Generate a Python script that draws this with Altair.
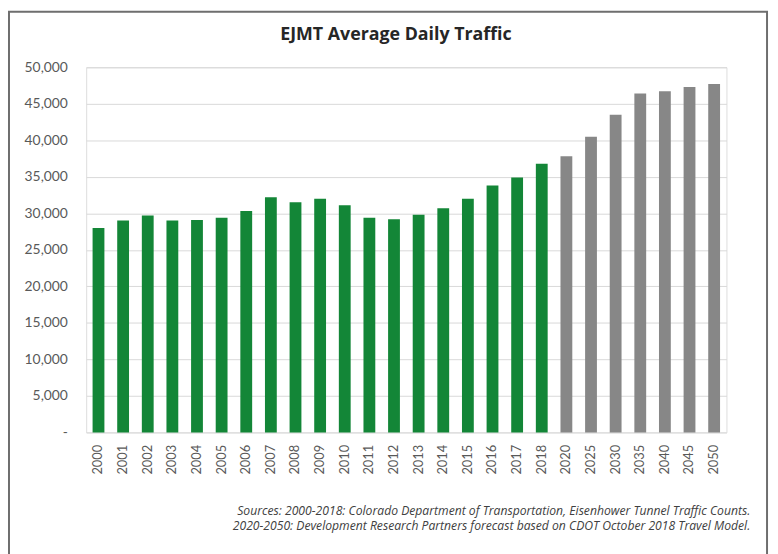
import altair as alt
import pandas as pd

years = ["2000", "2001", "2002", "2003", "2004", "2005", "2006", "2007", "2008", "2009",
         "2010", "2011", "2012", "2013", "2014", "2015", "2016", "2017", "2018",
         "2020", "2025", "2030", "2035", "2040", "2045", "2050"]
traffic = [28000, 29000, 29700, 29000, 29100, 29400, 30300, 32200, 31500, 32000,
           31100, 29400, 29200, 29800, 30700, 32000, 33800, 34900, 36800,
           37800, 40500, 43500, 46400, 46700, 47300, 47700]
period = ["Actual"] * 19 + ["Forecast"] * 7

title_text = "EJMT Average Daily Traffic"
notes = [
    "Sources: 2000-2018: Colorado Department of Transportation, Eisenhower Tunnel Traffic Counts.",
    "2020-2050: Development Research Partners forecast based on CDOT October 2018 Travel Model.",
]

df = pd.DataFrame({"year": years, "traffic": traffic, "period": period})

FONT = "Lato"

bars = alt.Chart(df).mark_bar().encode(
    x=alt.X("year:N", sort=years, title=None,
            scale=alt.Scale(paddingInner=0.52, paddingOuter=0.26),
            axis=alt.Axis(labelAngle=-90, labelPadding=12, ticks=False, domain=False,
                          labelFontSize=13, labelColor="#595959", labelFont=FONT)),
    y=alt.Y("traffic:Q", title=None,
            scale=alt.Scale(domain=[0, 50000], nice=False),
            axis=alt.Axis(values=list(range(0, 50001, 5000)), ticks=False, domain=False,
                          labelExpr="datum.value == 0 ? '-' : format(datum.value, ',')",
                          labelPadding=19, labelFontSize=14, labelColor="#595959",
                          labelFont=FONT, gridColor="#d9d9d9", gridWidth=1)),
    color=alt.Color("period:N", legend=None,
                    scale=alt.Scale(domain=["Actual", "Forecast"], range=["#138637", "#878787"])),
)

frame = alt.Chart(pd.DataFrame({"f": [0]})).mark_rect(
    fill=None, stroke="#6e6e6e", strokeWidth=2
).encode(x=alt.value(-78), x2=alt.value(688), y=alt.value(-56), y2=alt.value(500))

title = alt.Chart(pd.DataFrame({"t": [title_text]})).mark_text(
    font="Open Sans", fontSize=18, fontWeight="bold", color="#262626",
    align="center", baseline="middle"
).encode(text="t:N", x=alt.value(313), y=alt.value(-33))

note_layers = []
for i, line in enumerate(notes):
    note_layers.append(
        alt.Chart(pd.DataFrame({"line": [line]})).mark_text(
            font="Open Sans", fontSize=12.3, fontStyle="italic", color="#404040",
            align="right", baseline="middle"
        ).encode(text="line:N", x=alt.value(671), y=alt.value(448 + 16 * i))
    )

chart = alt.layer(frame, bars, title, *note_layers).properties(
    width=647, height=369,
    autosize=alt.AutoSizeParams(type="none"),
    padding={"left": 79, "top": 57, "right": 44, "bottom": 120},
).configure_view(stroke=None).configure(background="white")

chart.save("out.html", embed_options={"renderer": "svg", "actions": False})
